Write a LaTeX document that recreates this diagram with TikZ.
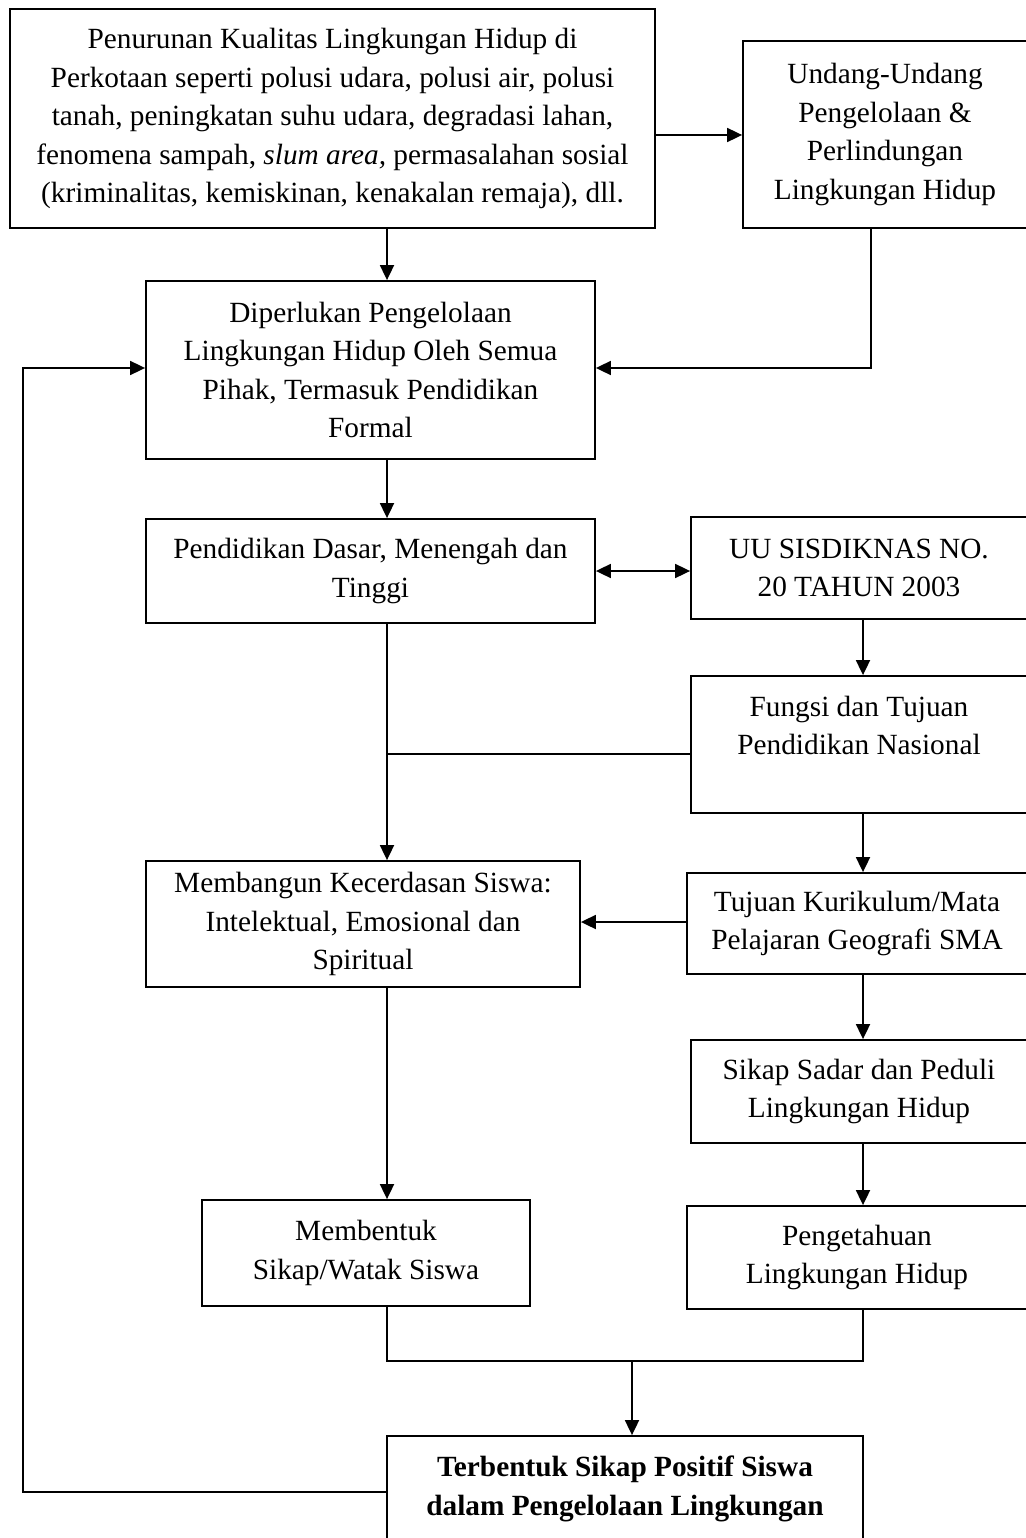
\documentclass[tikz,border=0pt]{standalone}
\usepackage{fontspec}
\setmainfont{Liberation Serif}
\usetikzlibrary{arrows.meta}
\begin{document}
\begin{tikzpicture}[x=1pt,y=-1pt,
  box/.style={draw, line width=1.8pt, align=center, inner sep=0pt,
    font=\fontsize{29.3}{38.5}\selectfont},
  arr/.style={line width=1.8pt, -{Triangle[length=15pt,width=14pt]}},
  darr/.style={line width=1.8pt, {Triangle[length=15pt,width=14pt]}-{Triangle[length=15pt,width=14pt]}},
  ln/.style={line width=1.8pt}]
\useasboundingbox (0,0) rectangle (1025,1538);
% helper coordinates
\coordinate (y135) at (0,135);
\coordinate (y368) at (0,368);
\coordinate (y571) at (0,571);
\coordinate (y754) at (0,754);
\coordinate (y922) at (0,922);
\coordinate (y1361) at (0,1361);
\coordinate (y1492) at (0,1492);
\coordinate (x23) at (23,0);
\coordinate (x387) at (387,0);
\coordinate (x632) at (632,0);
\coordinate (x863) at (863,0);
\coordinate (x871) at (871,0);
% boxes
\node[box, minimum width=645, minimum height=219] (b1) at (332.5,118.5)
 {Penurunan Kualitas Lingkungan Hidup di\\Perkotaan seperti polusi udara, polusi air, polusi\\tanah, peningkatan suhu udara, degradasi lahan,\\fenomena sampah, \textit{slum area,} permasalahan sosial\\(kriminalitas, kemiskinan, kenakalan remaja), dll.};
\node[box, minimum width=284, minimum height=187] (b2) at (885,134.5)
 {Undang-Undang\\Pengelolaan \&\\Perlindungan\\Lingkungan Hidup};
\node[box, minimum width=449, minimum height=178] (b3) at (370.5,370)
 {Diperlukan Pengelolaan\\Lingkungan Hidup Oleh Semua\\Pihak, Termasuk Pendidikan\\Formal};
\node[box, minimum width=449, minimum height=104] (b4) at (370.5,571)
 {Pendidikan Dasar, Menengah dan\\Tinggi};
\node[box, minimum width=336, minimum height=102] (b5) at (859,568)
 {UU SISDIKNAS NO.\\20 TAHUN 2003};
\node[box, minimum width=336, minimum height=137] (b6) at (859,744.5)
 {Fungsi dan Tujuan\\Pendidikan Nasional\\\mbox{}};
\node[box, minimum width=434, minimum height=126] (b7) at (363,924)
 {Membangun Kecerdasan Siswa:\\Intelektual, Emosional dan\\Spiritual};
\node[box, minimum width=340, minimum height=101] (b8) at (857,923.5)
 {Tujuan Kurikulum/Mata\\Pelajaran Geografi SMA};
\node[box, minimum width=336, minimum height=103] (b9) at (859,1091.5)
 {Sikap Sadar dan Peduli\\Lingkungan Hidup};
\node[box, minimum width=340, minimum height=103] (b10) at (857,1257.5)
 {Pengetahuan\\Lingkungan Hidup};
\node[box, minimum width=328, minimum height=106] (b11) at (366,1253)
 {Membentuk\\Sikap/Watak Siswa};
\node[box, minimum width=476, minimum height=138, font=\fontsize{29.3}{38.5}\selectfont\bfseries] (b12) at (625,1505)
 {Terbentuk Sikap Positif Siswa\\dalam Pengelolaan Lingkungan\\\mbox{}};
% connectors
\draw[arr] (b1.east |- y135) -- (b2.west |- y135);
\draw[arr] (b1.south -| x387) -- (b3.north -| x387);
\draw[arr] (b2.south -| x871) -- (x871 |- y368) -- (b3.east |- y368);
\draw[arr] (b12.west |- y1492) -- (x23 |- y1492) -- (x23 |- y368) -- (b3.west |- y368);
\draw[arr] (b3.south -| x387) -- (b4.north -| x387);
\draw[darr] (b4.east |- y571) -- (b5.west |- y571);
\draw[arr] (b5.south -| x863) -- (b6.north -| x863);
\draw[arr] (b4.south -| x387) -- (b7.north -| x387);
\draw[ln] (b6.west |- y754) -- (x387 |- y754);
\draw[arr] (b6.south -| x863) -- (b8.north -| x863);
\draw[arr] (b8.west |- y922) -- (b7.east |- y922);
\draw[arr] (b8.south -| x863) -- (b9.north -| x863);
\draw[arr] (b9.south -| x863) -- (b10.north -| x863);
\draw[arr] (b7.south -| x387) -- (b11.north -| x387);
\draw[ln] (b11.south -| x387) -- (x387 |- y1361) -- (x863 |- y1361) -- (b10.south -| x863);
\draw[arr] (x632 |- y1361) -- (b12.north -| x632);
\end{tikzpicture}
\end{document}
